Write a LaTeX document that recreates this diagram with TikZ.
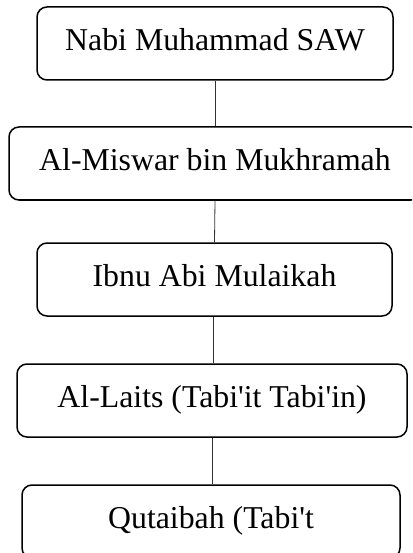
\documentclass[tikz,border=0pt]{standalone}
\usepackage{fontspec}
\setmainfont{Liberation Serif}
\begin{document}
\begin{tikzpicture}[x=1pt,y=-1pt,
  box/.style={draw=black, line width=1.5pt, rounded corners=10pt, minimum height=73pt, inner sep=0pt, text height=20pt, text depth=6pt, font=\fontsize{31.8}{35}\selectfont},
  link/.style={draw=black!80, line width=0.8pt}]
\useasboundingbox (0,0) rectangle (412,553);
\clip (0,0) rectangle (412,553);
\node[box, minimum width=356pt] (b1) at (215,43.5) {Nabi Muhammad SAW};
\node[box, minimum width=412pt] (b2) at (215,163.5) {Al-Miswar bin Mukhramah};
\node[box, minimum width=355pt] (b3) at (214.5,279.5) {Ibnu Abi Mulaikah};
\node[box, minimum width=390pt] (b4) at (212,400.5) {Al-Laits (Tabi\textquotesingle it Tabi\textquotesingle in)};
\node[box, minimum width=378pt] (b5) at (211,521.5) {Qutaibah (Tabi\textquotesingle t};
\draw[link] (b1.south) -- (b2.north);
\draw[link] (b2.south) -- (b3.north);
\draw[link] ([xshift=-1.5pt]b3.south) -- ([xshift=-1.5pt]b3.south |- b4.north);
\draw[link] (b4.south) -- (b4.south |- b5.north);
\end{tikzpicture}
\end{document}
